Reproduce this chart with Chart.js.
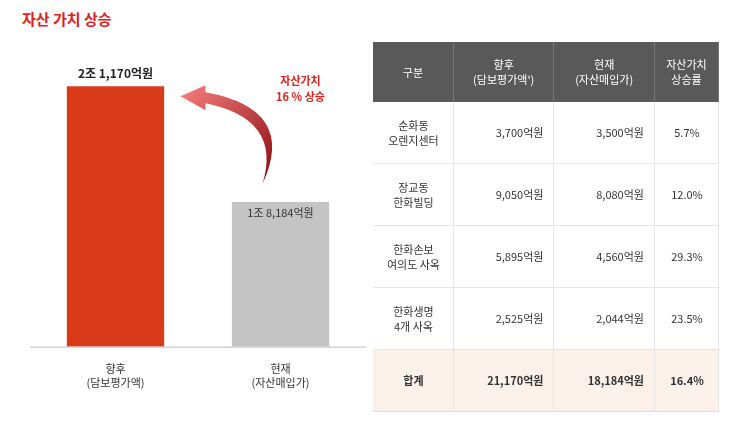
<!DOCTYPE html>
<html><head><meta charset="utf-8">
<script src="https://cdn.jsdelivr.net/npm/chart.js@4"></script>
<style>
body{margin:0;width:755px;height:425px;background:#fff;font-family:"Noto Sans CJK KR","Noto Sans",sans-serif;position:relative;overflow:hidden}
h1{position:absolute;left:22px;top:8px;margin:0;font-size:15px;color:#e0201b;font-weight:700}
#wrap{position:absolute;left:0;top:0;width:380px;height:425px}
table{position:absolute;left:373px;top:42px;width:346px;border-collapse:collapse;font-size:11px;color:#333}
th{background:#595959;color:#fff;font-weight:400;height:58px;border-right:1px solid #777;line-height:15px}
td{height:59px;border-bottom:1px solid #e6e6e6;border-right:1px solid #e6e6e6;text-align:right;padding-right:10px;line-height:15px}
td:first-child,td:last-child{text-align:center;padding-right:0}
tr.sum td{background:#fbf1ea;font-weight:700;border-bottom:1px solid #ddd}
</style></head><body>
<h1>자산 가치 상승</h1>
<div id="wrap"><canvas id="c"></canvas></div>
<table id="t"></table>
<script>
// chart data
const barLabels = [['향후', '(담보평가액)'], ['현재', '(자산매입가)']];
const barValues = [21170, 18184];
const barText = ['2조 1,170억원', '1조 8,184억원'];
const riseText = ['자산가치', '16 % 상승'];

// table data
const headers = ['구분', '향후<br>(담보평가액\')', '현재<br>(자산매입가)', '자산가치<br>상승률'];
const sites = ['순화동<br>오렌지센터', '장교동<br>한화빌딩', '한화손보<br>여의도 사옥', '한화생명<br>4개 사옥', '합계'];
const future = ['3,700억원', '9,050억원', '5,895억원', '2,525억원', '21,170억원'];
const current = ['3,500억원', '8,080억원', '4,560억원', '2,044억원', '18,184억원'];
const rates = ['5.7%', '12.0%', '29.3%', '23.5%', '16.4%'];

let html = '<tr>' + headers.map(h => '<th>' + h + '</th>').join('') + '</tr>';
sites.forEach((s, i) => {
  html += '<tr' + (i == sites.length - 1 ? ' class="sum"' : '') + '><td>' + s + '</td><td>' + future[i] +
    '</td><td>' + current[i] + '</td><td>' + rates[i] + '</td></tr>';
});
document.getElementById('t').innerHTML = html;

const decor = {
  id: 'decor',
  afterDatasetsDraw(chart) {
    const ctx = chart.ctx;
    const bars = chart.getDatasetMeta(0).data;
    const a = chart.chartArea;
    ctx.save();
    // baseline
    ctx.strokeStyle = '#bbb'; ctx.lineWidth = 1;
    ctx.beginPath(); ctx.moveTo(a.left - 3, a.bottom + 0.5); ctx.lineTo(a.right + 3, a.bottom + 0.5); ctx.stroke();
    ctx.textAlign = 'center';
    ctx.font = 'bold 12px "Noto Sans CJK KR"'; ctx.fillStyle = '#222';
    ctx.fillText(barText[0], bars[0].x, bars[0].y - 8);
    ctx.font = '11px "Noto Sans CJK KR"'; ctx.fillStyle = '#333';
    ctx.fillText(barText[1], bars[1].x, bars[1].y + 15);
    // curved arrow
    const sx = bars[1].x - 18, sy = bars[1].y - 18;
    const ex = bars[0].x + 65, ey = bars[0].y + 10;
    const g = ctx.createLinearGradient(sx, sy, ex, ey);
    g.addColorStop(0, '#8e0f12'); g.addColorStop(1, '#f07a78');
    ctx.fillStyle = g;
    ctx.beginPath();
    ctx.moveTo(sx, sy);
    ctx.quadraticCurveTo(sx + 35, sy - 75, ex + 25, ey - 4);
    ctx.lineTo(ex + 25, ey - 11);
    ctx.lineTo(ex, ey);
    ctx.lineTo(ex + 25, ey + 14);
    ctx.lineTo(ex + 25, ey + 7);
    ctx.quadraticCurveTo(sx + 20, sy - 65, sx, sy);
    ctx.fill();
    ctx.font = 'bold 11px "Noto Sans CJK KR"'; ctx.fillStyle = '#e0201b';
    ctx.fillText(riseText[0], bars[1].x + 20, bars[0].y - 1);
    ctx.fillText(riseText[1], bars[1].x + 20, bars[0].y + 15);
    ctx.restore();
  }
};

new Chart(document.getElementById('c'), {
  type: 'bar',
  data: { labels: barLabels, datasets: [{ data: barValues, backgroundColor: ['#d93a17', '#c4c4c4'],
    categoryPercentage: 1, barPercentage: 0.59 }] },
  options: {
    responsive: true, maintainAspectRatio: false, animation: false,
    layout: { padding: { left: 33, right: 17, top: 60, bottom: 28 } },
    plugins: { legend: { display: false }, tooltip: { enabled: false } },
    scales: {
      y: { display: false, min: 14450, max: 21850 },
      x: { grid: { display: false }, border: { display: false },
        ticks: { color: '#333', font: { size: 11, family: 'Noto Sans CJK KR' }, padding: 8 } }
    }
  },
  plugins: [decor]
});
</script>
</body></html>
